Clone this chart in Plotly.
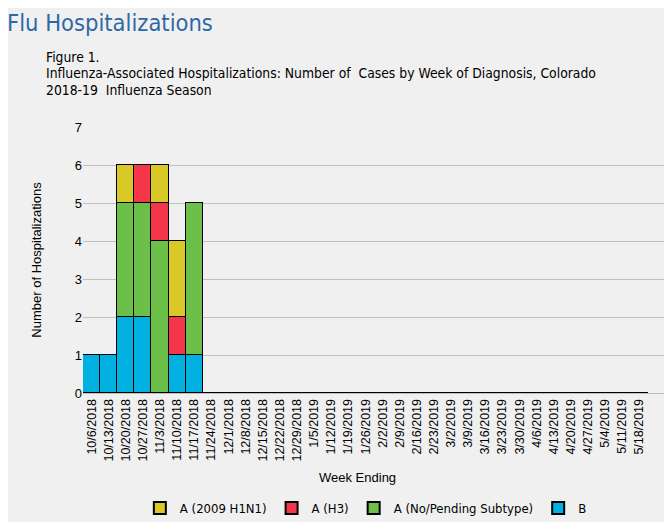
import plotly.graph_objects as go

weeks = [
    "10/6/2018", "10/13/2018", "10/20/2018", "10/27/2018", "11/3/2018",
    "11/10/2018", "11/17/2018", "11/24/2018", "12/1/2018", "12/8/2018",
    "12/15/2018", "12/22/2018", "12/29/2018", "1/5/2019", "1/12/2019",
    "1/19/2019", "1/26/2019", "2/2/2019", "2/9/2019", "2/16/2019",
    "2/23/2019", "3/2/2019", "3/9/2019", "3/16/2019", "3/23/2019",
    "3/30/2019", "4/6/2019", "4/13/2019", "4/20/2019", "4/27/2019",
    "5/4/2019", "5/11/2019", "5/18/2019",
]
b = [1, 1, 2, 2, 0, 1, 1] + [0] * 26
a_nopending = [0, 0, 3, 3, 4, 0, 4] + [0] * 26
a_h3 = [0, 0, 0, 1, 1, 1, 0] + [0] * 26
a_h1n1 = [0, 0, 1, 0, 1, 2, 0] + [0] * 26

series = [
    ("B", b, "#00B0E0"),
    ("A (No/Pending Subtype)", a_nopending, "#6CC04A"),
    ("A (H3)", a_h3, "#F5364A"),
    ("A (2009 H1N1)", a_h1n1, "#D9C928"),
]

fig = go.Figure()
for name, vals, color in series:
    fig.add_trace(go.Bar(
        x=weeks, y=vals, name=name,
        marker=dict(color=color, line=dict(color="black", width=1)),
    ))

# page has an 8px body margin, so the figure is drawn 8px smaller
bg = "#F0F0F0"
fig.update_layout(
    width=664, height=514,
    barmode="stack", bargap=0,
    paper_bgcolor=bg, plot_bgcolor=bg,
    margin=dict(l=75, r=7, t=119, b=129),
    font=dict(family="Liberation Sans, Arial, sans-serif", size=11, color="black"),
    showlegend=True,
    legend=dict(
        orientation="h", traceorder="reversed",
        x=0.486, xanchor="center", xref="paper",
        y=14 / 514, yanchor="middle", yref="container",
        font=dict(family="DejaVu Sans Condensed, sans-serif", size=13),
        itemwidth=30, itemsizing="constant",
    ),
)

fig.update_xaxes(
    type="category", range=[-0.5, 33.5], automargin=False,
    tickangle=-90, tickfont=dict(size=12.5),
    showgrid=False, showline=True, linecolor="#BFBFBF", linewidth=1,
    ticks="",
)
fig.update_yaxes(
    range=[0, 7], dtick=1, automargin=False, tickfont=dict(size=13),
    showgrid=True, gridcolor="#C0C0C0", gridwidth=1,
    zeroline=False, showline=False, ticks="",
    title=dict(text="Number of Hospitalizations", font=dict(size=13), standoff=30),
)

fig.add_annotation(
    text="Week Ending", xref="paper", yref="paper",
    x=(357 - 83) / 582, y=0, xanchor="center", yanchor="middle",
    yshift=-84, showarrow=False, font=dict(size=13),
)

fig.add_annotation(
    text="Flu Hospitalizations", xref="paper", yref="paper",
    x=-77 / 582, y=1.0, xanchor="left", yanchor="top",
    yshift=119, borderpad=0, showarrow=False,
    font=dict(family="DejaVu Sans Condensed, sans-serif", size=23.5, color="#2E68A4"),
)
caption = [
    ("Figure 1.", 70),
    ("Influenza-Associated Hospitalizations: Number of  Cases by Week of Diagnosis, Colorado", 54),
    ("2018-19  Influenza Season", 37),
]
for line, shift in caption:
    fig.add_annotation(
        text=line, xref="paper", yref="paper", x=-39 / 582, y=1.0,
        xanchor="left", yanchor="middle", yshift=shift, align="left",
        showarrow=False,
        font=dict(family="DejaVu Sans Condensed, sans-serif", size=13.8, color="black"),
    )

fig.write_html("out.html")
